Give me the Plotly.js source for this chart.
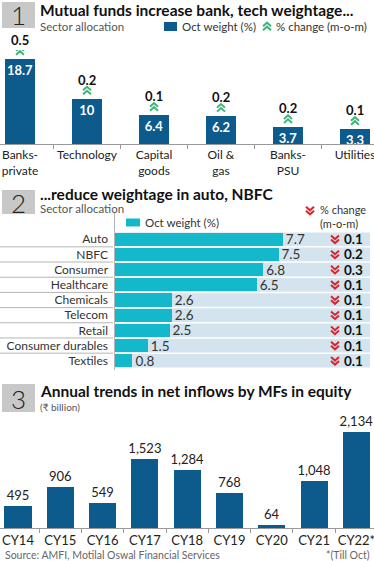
<!DOCTYPE html>
<html>
<head>
<meta charset="utf-8">
<script src="https://cdn.plot.ly/plotly-3.0.1.min.js"></script>
<style>html,body{margin:0;padding:0;background:#fff;}#chart{width:374px;height:561px;}</style>
</head>
<body>
<div id="chart"></div>
<script>
// ---- Data ----
const sectors1 = ['Banks-private', 'Technology', 'Capital goods', 'Oil & gas', 'Banks-PSU', 'Utilities'];
const sectorLabels1 = ['Banks-<br>private', 'Technology', 'Capital<br>goods', 'Oil &<br>gas', 'Banks-<br>PSU', 'Utilities'];
const weights1 = [18.7, 10, 6.4, 6.2, 3.7, 3.3];
const change1 = [0.5, 0.2, 0.1, 0.2, 0.2, 0.1];

const sectors2 = ['Auto', 'NBFC', 'Consumer', 'Healthcare', 'Chemicals', 'Telecom', 'Retail', 'Consumer durables', 'Textiles'];
const weights2 = [7.7, 7.5, 6.8, 6.5, 2.6, 2.6, 2.5, 1.5, 0.8];
const change2 = [0.1, 0.2, 0.3, 0.1, 0.1, 0.1, 0.1, 0.1, 0.1];

const years3 = ['CY14', 'CY15', 'CY16', 'CY17', 'CY18', 'CY19', 'CY20', 'CY21', 'CY22*'];
const inflows3 = [495, 906, 549, 1523, 1284, 768, 64, 1048, 2134];

// ---- Style ----
const W = 374, H = 561;
const FONT = 'Lato, "Open Sans", sans-serif';
const DARK = '#0d5a8c';
const TEAL = '#14b8cb';
const BAND = '#d3e4ef';
const GREEN = '#3bb57a';
const RED = '#d8262f';
const BOXGRAY = '#c8c8c8';
const px = v => v / W;
const py = v => 1 - v / H;

const traces = [
  {
    type: 'bar', x: sectors1, y: weights1, xaxis: 'x', yaxis: 'y',
    marker: {color: DARK}, width: 0.45,
    texttemplate: '%{y}', textposition: 'inside', insidetextanchor: 'end',
    textangle: 0, constraintext: 'none', cliponaxis: false,
    textfont: {family: FONT, size: 13, color: '#fff', weight: 'bold'},
    hoverinfo: 'skip', showlegend: false
  },
  {
    type: 'bar', orientation: 'h', y: sectors2, x: weights2, xaxis: 'x2', yaxis: 'y2',
    marker: {color: TEAL}, width: 0.88,
    texttemplate: '%{x}', textposition: 'outside', cliponaxis: false,
    textangle: 0, constraintext: 'none',
    textfont: {family: FONT, size: 13.5, color: '#333'},
    hoverinfo: 'skip', showlegend: false
  },
  {
    type: 'bar', x: years3, y: inflows3, xaxis: 'x3', yaxis: 'y3',
    marker: {color: DARK}, width: 0.64,
    texttemplate: '%{y:,}', textposition: 'outside', cliponaxis: false,
    textangle: 0, constraintext: 'none',
    textfont: {family: FONT, size: 13, color: '#222'},
    hoverinfo: 'skip', showlegend: false
  }
];

const shapes = [];
const annotations = [];

function numBox(n, top, bottom) {
  shapes.push({type: 'rect', xref: 'paper', yref: 'paper', x0: px(2), x1: px(35), y0: py(bottom), y1: py(top),
    fillcolor: BOXGRAY, line: {width: 0}});
  annotations.push({xref: 'paper', yref: 'paper', x: px(18.5), y: py((top + bottom) / 2 + 0.5), text: n,
    showarrow: false, xanchor: 'center', yanchor: 'middle', borderpad: 0,
    font: {family: FONT, size: 26, color: '#222', weight: 300}});
}
function txt(t, x, y, size, color, weight, xanchor) {
  annotations.push({xref: 'paper', yref: 'paper', x: px(x), y: py(y), text: t, showarrow: false,
    xanchor: xanchor || 'left', yanchor: 'middle', borderpad: 0,
    font: {family: FONT, size: size, color: color, weight: weight || 'normal'}});
}
// double chevron drawn as a pixel-sized path anchored at (x, y); dy = pixel offset (up positive)
function chev(xref, yref, x, y, up, dy) {
  const s = up ? 1 : -1;
  const o = dy || 0;
  const p = (a, b) => a + ',' + (o + s * b);
  const path = 'M' + p(-4, 0.2) + ' L' + p(0, 3.8) + ' L' + p(4, 0.2) +
               ' M' + p(-4, -3.8) + ' L' + p(0, -0.2) + ' L' + p(4, -3.8);
  shapes.push({type: 'path', xref: xref, yref: yref, xsizemode: 'pixel', ysizemode: 'pixel',
    xanchor: x, yanchor: y, path: path, fillcolor: 'rgba(0,0,0,0)',
    line: {color: up ? GREEN : RED, width: 2}});
}

// Panel 1 header
numBox('1', 2, 28);
txt('Mutual funds increase bank, tech weightage...', 39, 10, 15.5, '#111', 'bold');
txt('Sector allocation', 39, 26, 11.5, '#555');
shapes.push({type: 'rect', xref: 'paper', yref: 'paper', x0: px(164), x1: px(177), y0: py(31), y1: py(22),
  fillcolor: DARK, line: {width: 0}});
txt('Oct weight (%)', 181, 26.5, 11.5, '#333');
chev('paper', 'paper', px(267), py(26.5), true, 0);
txt('% change (m-o-m)', 275, 26.5, 11.5, '#333');

// Panel 1 annotations above bars
sectors1.forEach((s, i) => {
  chev('x', 'y', i, weights1[i], true, 8);
  annotations.push({xref: 'x', yref: 'y', x: s, y: weights1[i], yshift: 19, text: String(change1[i]),
    showarrow: false, xanchor: 'center', yanchor: 'middle', borderpad: 0,
    font: {family: FONT, size: 13, color: '#111', weight: 'bold'}});
});

// Panel 2 header
numBox('2', 190, 214);
txt('...reduce weightage in auto, NBFC', 39, 194, 15.5, '#111', 'bold');
txt('Sector allocation', 39, 208, 11.5, '#555');
shapes.push({type: 'rect', xref: 'paper', yref: 'paper', x0: px(126), x1: px(140), y0: py(226.5), y1: py(218.5),
  fillcolor: TEAL, line: {width: 0}});
txt('Oct weight (%)', 144, 222, 11.5, '#333');
chev('paper', 'paper', px(310), py(210.5), false, 0);
txt('% change', 319, 210, 11, '#333');
txt('(m-o-m)', 319, 223.5, 11, '#333');

// Panel 2 bands, separators, right-hand change column
sectors2.forEach((s, i) => {
  shapes.push({type: 'rect', xref: 'paper', yref: 'y2', x0: px(115), x1: px(370), y0: i - 0.45, y1: i + 0.45,
    fillcolor: BAND, line: {width: 0}, layer: 'below'});
  if (i < sectors2.length - 1) {
    shapes.push({type: 'line', xref: 'paper', yref: 'y2', x0: 0, x1: px(113), y0: i + 0.5, y1: i + 0.5,
      line: {color: '#b5b5b5', width: 1}});
  }
  chev('paper', 'y2', px(335), i, false, 0);
  annotations.push({xref: 'paper', yref: 'y2', x: px(353.5), y: s, text: String(change2[i]), showarrow: false,
    xanchor: 'center', yanchor: 'middle', borderpad: 0,
    font: {family: FONT, size: 13.5, color: '#111', weight: 'bold'}});
});
shapes.push({type: 'line', xref: 'paper', yref: 'paper', x0: px(114.5), x1: px(114.5), y0: py(370), y1: py(213),
  line: {color: '#b5b5b5', width: 1}});

// Panel 3 header
numBox('3', 384, 412);
txt('Annual trends in net inflows by MFs in equity', 39, 391, 15.5, '#111', 'bold');
txt('(₹ billion)', 39, 407, 10, '#555');
txt('Source: AMFI, Motilal Oswal Financial Services', 4, 555, 10.5, '#666');
txt('*(Till Oct)', 371, 555, 10.5, '#666', 'normal', 'right');

// Axis geometry
const x1c = 20, x1s = 67;      // panel 1 centre of first bar, spacing (px)
const x3c = 18, x3s = 42.3;    // panel 3
const layout = {
  width: W, height: H,
  margin: {l: 0, r: 0, t: 0, b: 0},
  paper_bgcolor: '#fff', plot_bgcolor: 'rgba(0,0,0,0)',
  font: {family: FONT, color: '#222'},
  showlegend: false,
  bargap: 0,
  xaxis: {
    domain: [0, 1], anchor: 'y', type: 'category',
    range: [-x1c / x1s, (W - x1c) / x1s],
    tickmode: 'array', tickvals: sectors1, ticktext: sectorLabels1, tickangle: 0,
    tickson: 'boundaries', ticks: 'outside', ticklen: 4, tickcolor: '#999',
    showline: true, linecolor: '#999', linewidth: 1, showgrid: false, zeroline: false,
    tickfont: {family: FONT, size: 12, color: '#222'}, fixedrange: true
  },
  yaxis: {
    domain: [py(144), py(50)], anchor: 'x', range: [0, 18.7 * 94 / 85],
    visible: false, fixedrange: true
  },
  xaxis2: {
    domain: [px(115), 1], anchor: 'y2', range: [0, (W - 115) / 21.8],
    visible: false, fixedrange: true
  },
  yaxis2: {
    domain: [py(369.75), py(230.25)], anchor: 'x2', type: 'category', autorange: 'reversed',
    showgrid: false, zeroline: false, showline: false, ticks: '', ticklabelstandoff: 6,
    tickfont: {family: FONT, size: 12, color: '#333'}, fixedrange: true
  },
  xaxis3: {
    domain: [0, 1], anchor: 'y3', type: 'category',
    range: [-x3c / x3s, (W - x3c) / x3s], tickangle: 0,
    tickson: 'boundaries', ticks: 'outside', ticklen: 4, tickcolor: '#999',
    showline: true, linecolor: '#999', linewidth: 1, showgrid: false, zeroline: false,
    tickfont: {family: FONT, size: 13, color: '#222'}, fixedrange: true
  },
  yaxis3: {
    domain: [py(528), py(420)], anchor: 'x3', range: [0, 2134 * 108 / 96],
    visible: false, fixedrange: true
  },
  shapes: shapes,
  annotations: annotations
};

Plotly.newPlot('chart', traces, layout, {staticPlot: true, displayModeBar: false});
</script>
</body>
</html>
